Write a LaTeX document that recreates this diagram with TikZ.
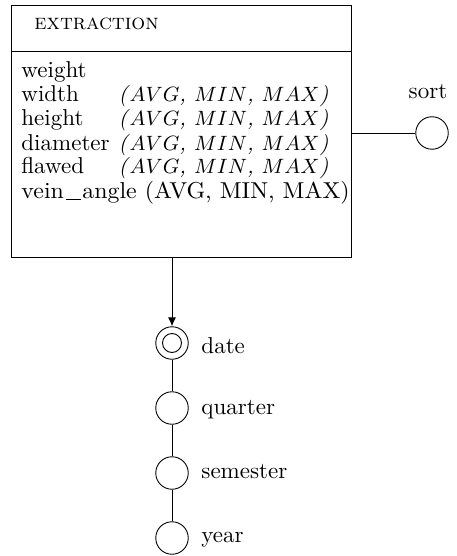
\documentclass[tikz,border=0pt]{standalone}
\usepackage{fontspec}
\usetikzlibrary{arrows.meta}
% aggregate list set in math italic
\newcommand{\agg}{\textit{(}$AVG$\textit{, }$MIN$\textit{, }$MAX$\textit{)}}
% wide underscore for the attribute name
\newcommand{\usc}{\kern0.08em\rule[-0.2ex]{0.62em}{0.045em}\kern0.08em}
\tikzset{
  body/.style={inner sep=0pt, scale=2.3, font=\fontsize{10}{12}\selectfont},
  aggr/.style={inner sep=0pt, scale=2.3, font=\fontsize{9.3}{12}\selectfont},
  head/.style={inner sep=0pt, scale=2.3, font=\fontsize{9.5}{11}\selectfont\scshape},
  level/.style={circle, draw, line width=0.9pt, minimum size=32.5pt, inner sep=0pt},
  conn/.style={line width=0.9pt},
}
\begin{document}
\begin{tikzpicture}[x=1pt,y=-1pt]
  \useasboundingbox (0,0) rectangle (457,556);
  % fact box
  \node[draw, line width=0.9pt, minimum width=340pt, minimum height=252pt, anchor=north west, inner sep=0pt] (fact) at (11,5) {};
  \draw[conn] (11,51) -- (351,51);
  \node[head, anchor=base west] (title) at (34,30) {extraction};
  % measures
  \node[body, anchor=base west] (m1) at (21,78) {weight};
  \node[body, anchor=base west] (m2) at (21,102) {width};
  \node[aggr, anchor=base east] (a2) at (329,102) {\agg};
  \node[body, anchor=base west] (m3) at (21,126) {height};
  \node[aggr, anchor=base east] (a3) at (329,126) {\agg};
  \node[body, anchor=base west] (m4) at (21,150) {diameter};
  \node[aggr, anchor=base east] (a4) at (329,150) {\agg};
  \node[body, anchor=base west] (m5) at (21,174) {flawed};
  \node[aggr, anchor=base east] (a5) at (329,174) {\agg};
  \node[body, xscale=1.037, anchor=base west] (m6) at (21,198) {vein\usc angle (AVG, MIN, MAX)};
  % descriptive attribute
  \node[level] (sort) at (432,133) {};
  \node[body, anchor=base] (sortlbl) at (428,99) {sort};
  \draw[conn] (fact.east |- sort) -- (sort);
  % time hierarchy
  \node[level] (date) at (172,343) {};
  \node[circle, draw, line width=0.9pt, minimum size=19pt, inner sep=0pt] (dateinner) at (date) {};
  \node[level] (quarter) at (172,408) {};
  \node[level] (semester) at (172,473) {};
  \node[level] (year) at (172,538) {};
  \node[body, anchor=base west] at (201,353) {date};
  \node[body, anchor=base west] at (201,414) {quarter};
  \node[body, anchor=base west] at (201,478) {semester};
  \node[body, anchor=base west] at (201,542) {year};
  \draw[conn, -{Latex[length=9pt,width=8pt]}] (fact.south -| date) -- (date);
  \draw[conn] (date) -- (quarter);
  \draw[conn] (quarter) -- (semester);
  \draw[conn] (semester) -- (year);
\end{tikzpicture}
\end{document}
